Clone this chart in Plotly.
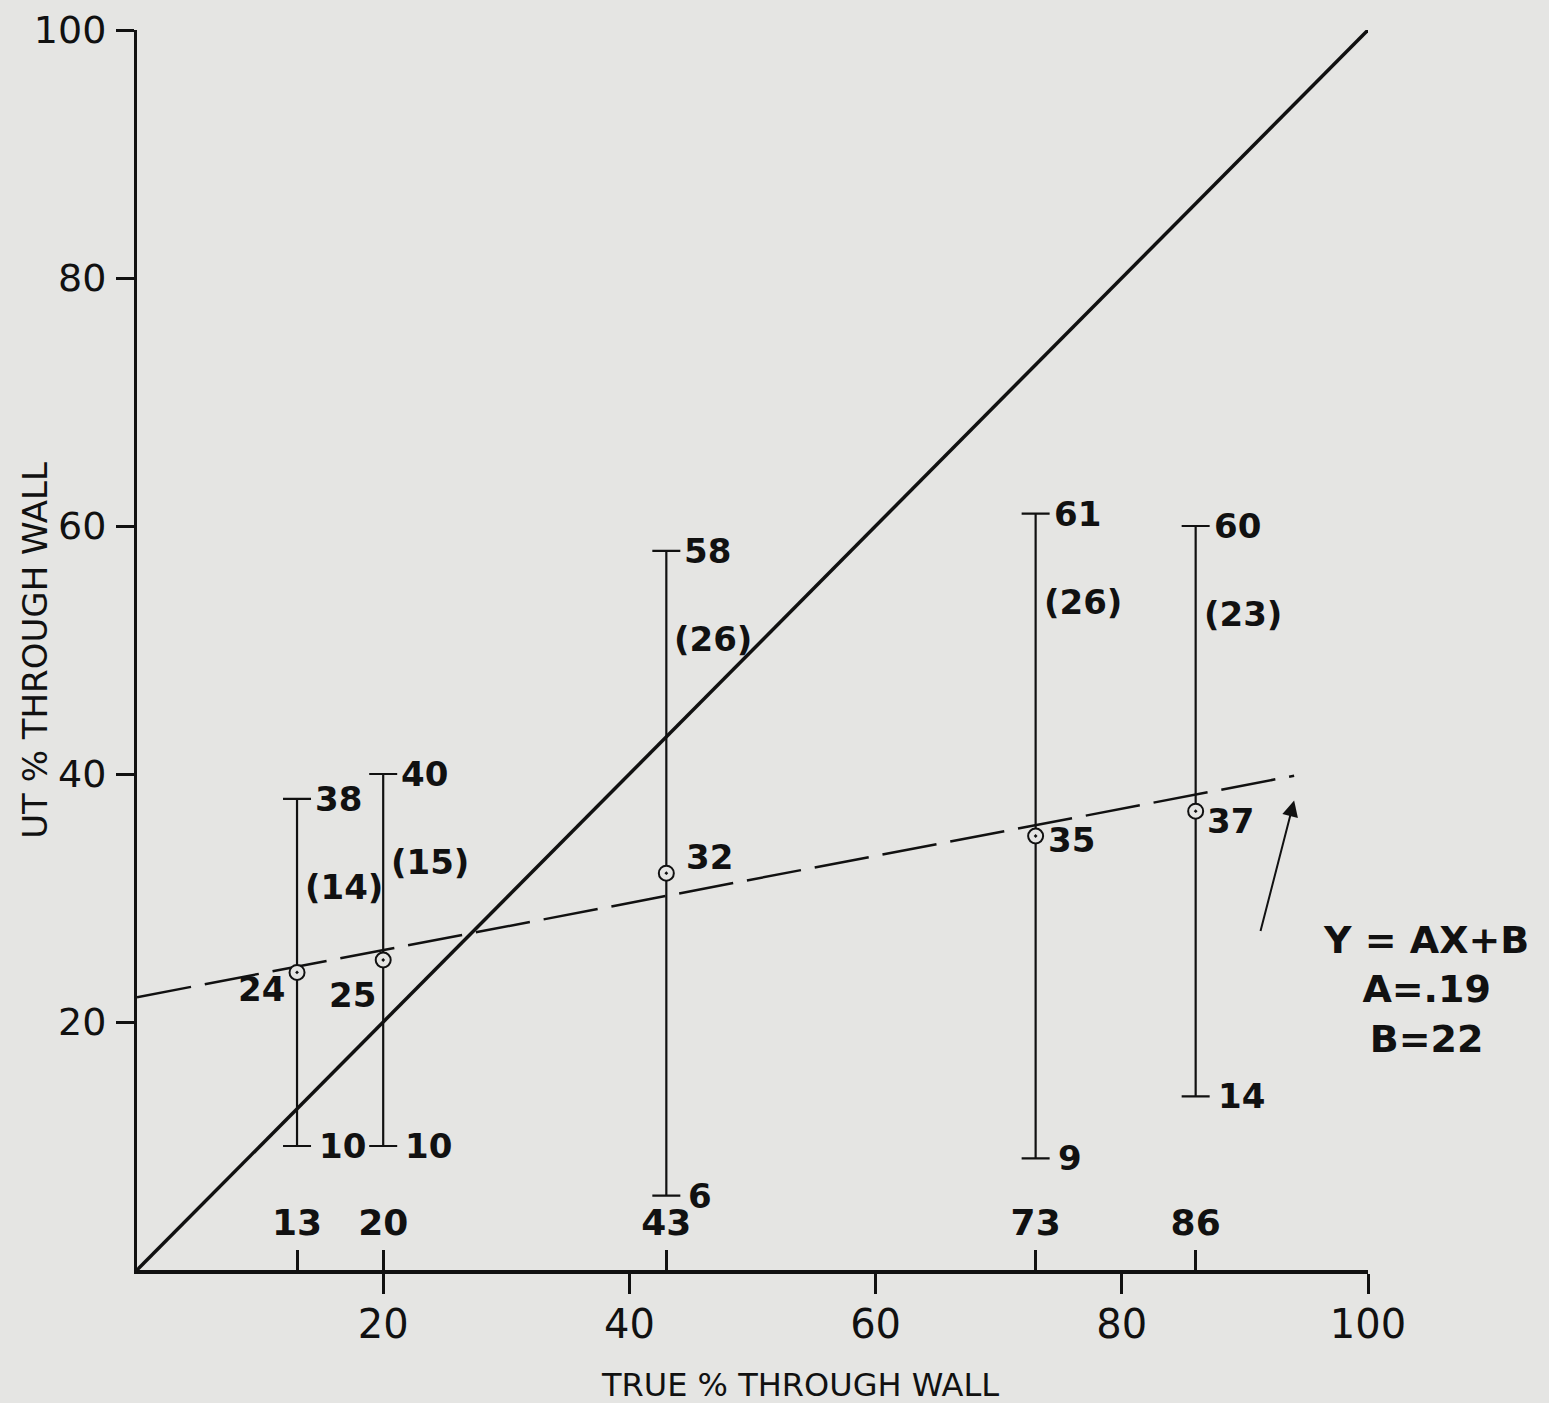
import plotly.graph_objects as go

# ---------------- data ----------------
TRUE_PCT = [13, 20, 43, 73, 86]          # true % through wall
UT_MEAN = [24, 25, 32, 35, 37]           # mean UT reading
UT_MAX = [38, 40, 58, 61, 60]            # max UT reading
UT_MIN = [10, 10, 6, 9, 14]              # min UT reading
UT_SPREAD = [14, 15, 26, 26, 23]         # value in parentheses
A_COEF = 0.19                            # Y = AX + B
B_COEF = 22
REG_X = [0, 94]                          # extent of fitted line
PERFECT = [0, 100]                       # 1:1 line
AXIS_TICKS = [20, 40, 60, 80, 100]
X_TITLE = "TRUE % THROUGH WALL"
Y_TITLE = "UT % THROUGH WALL"

# ---------------- styling ----------------
BG = "#e5e5e3"
INK = "#111111"
HAND = dict(family="DejaVu Sans", size=34, color=INK, weight="bold")
MEAN_OFFS = [(-10, -17, "right"), (-5, -35, "right"), (18, 16, "left"),
             (10, -4, "left"), (9, -10, "left")]

fig = go.Figure()

# 1:1 line
fig.add_trace(go.Scatter(x=PERFECT, y=PERFECT, mode="lines",
                         line=dict(color=INK, width=3.5), hoverinfo="skip",
                         showlegend=False))

# fitted line
reg_y = [A_COEF * v + B_COEF for v in REG_X]
fig.add_trace(go.Scatter(x=REG_X, y=reg_y, mode="lines",
                         line=dict(color=INK, width=2.5, dash="55px,14px"),
                         hoverinfo="skip", showlegend=False))

# means with min/max range bars
fig.add_trace(go.Scatter(
    x=TRUE_PCT, y=UT_MEAN, mode="markers", xaxis="x2",
    marker=dict(symbol="circle-dot", size=15, color=BG,
                line=dict(color=INK, width=2)),
    error_y=dict(type="data", symmetric=False,
                 array=[mx - m for mx, m in zip(UT_MAX, UT_MEAN)],
                 arrayminus=[m - mn for m, mn in zip(UT_MEAN, UT_MIN)],
                 color=INK, thickness=2.2, width=14),
    showlegend=False))

ann = []
for i, xv in enumerate(TRUE_PCT):
    ann.append(dict(x=xv, y=UT_MAX[i], text=str(UT_MAX[i]), showarrow=False,
                    xanchor="left", xshift=16, font=HAND))
    ann.append(dict(x=xv, y=UT_MIN[i], text=str(UT_MIN[i]), showarrow=False,
                    xanchor="left", xshift=20, font=HAND))
    ann.append(dict(x=xv, y=UT_MAX[i], text=f"({UT_SPREAD[i]})", showarrow=False,
                    xanchor="left", xshift=6, yshift=-88, font=HAND))
    dx, dy, anc = MEAN_OFFS[i]
    ann.append(dict(x=xv, y=UT_MEAN[i], text=str(UT_MEAN[i]), showarrow=False,
                    xanchor=anc, xshift=dx, yshift=dy, font=HAND))

# equation text
eq_text = (f"Y = AX+B<br>A=.{int(round(A_COEF*100))}<br>B={B_COEF}")
ann.append(dict(xref="paper", yref="paper", x=1.047, y=0.226, text=eq_text,
                xanchor="center", yanchor="middle",
                showarrow=False, align="center",
                font=dict(family="DejaVu Sans", size=38, color=INK, weight="bold")))
# arrow to fitted line
ann.append(dict(x=REG_X[1], y=A_COEF * REG_X[1] + B_COEF - 2, text="",
                showarrow=True, arrowhead=2, arrowsize=1.6, arrowwidth=2,
                arrowcolor=INK, ax=-34, ay=132, axref="pixel", ayref="pixel"))

# axis titles
ann.append(dict(xref="paper", yref="paper", x=0.5386, y=-0.0927, text=X_TITLE,
                xanchor="center", yanchor="middle", showarrow=False,
                font=dict(family="DejaVu Sans", size=32, color=INK)))
ann.append(dict(xref="paper", yref="paper", x=-0.083, y=0.50, text=Y_TITLE,
                xanchor="center", yanchor="middle", showarrow=False,
                textangle=-90,
                font=dict(family="DejaVu Sans", size=34, color=INK)))

fig.update_layout(
    width=1549, height=1403, autosize=False,
    paper_bgcolor=BG, plot_bgcolor=BG,
    margin=dict(l=137, r=181, t=30, b=133, pad=0),
    annotations=ann,
    xaxis=dict(range=[0, 100], tickvals=AXIS_TICKS, ticks="outside",
               ticklen=20, tickwidth=3, tickcolor=INK, showline=True,
               linewidth=4, linecolor=INK, showgrid=False, zeroline=False,
               tickfont=dict(family="DejaVu Sans", size=40, color=INK),
               ticklabelstandoff=-4, automargin=False),
    xaxis2=dict(range=[0, 100], overlaying="x", anchor="y", side="bottom",
                tickvals=TRUE_PCT, ticktext=[str(v) for v in TRUE_PCT],
                ticks="inside", ticklen=20, tickwidth=3, tickcolor=INK,
                ticklabelposition="inside", ticklabelstandoff=12,
                showline=False, showgrid=False,
                zeroline=False, tickfont=dict(HAND, size=36), automargin=False),
    yaxis=dict(range=[0, 100], tickvals=AXIS_TICKS, ticks="outside",
               ticklen=18, tickwidth=3, tickcolor=INK, showline=True,
               linewidth=3, linecolor=INK, showgrid=False, zeroline=False,
               tickfont=dict(family="DejaVu Sans", size=38, color=INK),
               ticklabelstandoff=2, automargin=False),
)

fig.write_html("out.html",
               config={"displayModeBar": False},
               post_script="document.body.style.margin='0';"
                           "document.body.style.background='#e5e5e3';")
